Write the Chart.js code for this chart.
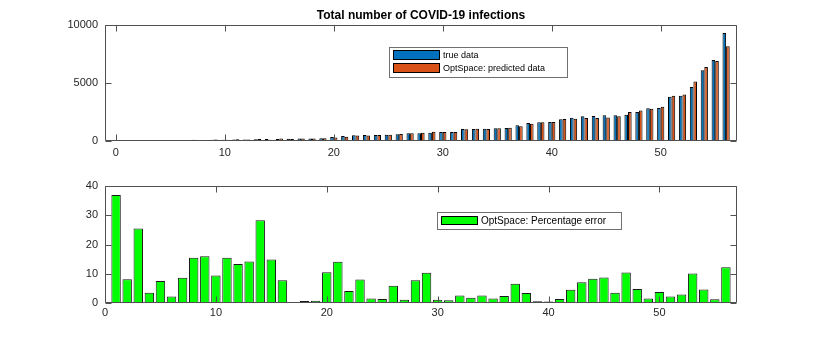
<!DOCTYPE html>
<html>
<head>
<meta charset="utf-8">
<script src="https://cdn.jsdelivr.net/npm/chart.js@4.4.0/dist/chart.umd.min.js"></script>
<style>
html, body { margin: 0; padding: 0; background: #fff; }
canvas { position: absolute; left: 0; }
#topChart { top: 0; }
#bottomChart { top: 170px; }
</style>
</head>
<body>
<canvas id="topChart" width="814" height="170"></canvas>
<canvas id="bottomChart" width="814" height="170"></canvas>
<script>
// day index of each bar
const days = [1, 2, 3, 4, 5, 6, 7, 8, 9, 10, 11, 12, 13, 14, 15, 16, 17, 18, 19, 20,
  21, 22, 23, 24, 25, 26, 27, 28, 29, 30, 31, 32, 33, 34, 35, 36, 37, 38, 39, 40,
  41, 42, 43, 44, 45, 46, 47, 48, 49, 50, 51, 52, 53, 54, 55, 56];

const trueData = [25, 35, 50, 60, 70, 80, 90, 95, 105, 115, 130, 140, 150, 165, 180, 195, 205, 215, 240, 340,
  430, 490, 520, 520, 545, 575, 660, 665, 720, 775, 780, 1030, 1035, 1060, 1090, 1120, 1350, 1550, 1625, 1635,
  1870, 2010, 2130, 2150, 2210, 2210, 2270, 2500, 2820, 2840, 3820, 3900, 4660, 6090, 6980, 9310];

const predictedData = [34, 38, 37, 62, 65, 82, 98, 80, 122, 104, 150, 121, 171, 118, 207, 180, 205, 217, 238, 304,
  369, 470, 478, 528, 537, 609, 667, 717, 794, 784, 773, 1003, 1054, 1032, 1106, 1147, 1261, 1497, 1615, 1643,
  1896, 1920, 1979, 1972, 2018, 2133, 2506, 2620, 2778, 2948, 3904, 4013, 5131, 6370, 6889, 8174];

const pctError = [36.9, 8.1, 25.5, 3.5, 7.5, 2.2, 8.6, 15.5, 16.0, 9.4, 15.5, 13.3, 14.2, 28.3, 14.9, 7.8, 0.05, 0.7, 0.8, 10.5,
  14.1, 4.1, 8.0, 1.5, 1.4, 5.9, 1.1, 7.8, 10.3, 1.1, 0.9, 2.6, 1.8, 2.6, 1.5, 2.4, 6.6, 3.4, 0.6, 0.5,
  1.4, 4.5, 7.1, 8.3, 8.7, 3.5, 10.4, 4.8, 1.5, 3.8, 2.2, 2.9, 10.1, 4.6, 1.3, 12.2];

const xTicks = [0, 10, 20, 30, 40, 50];
const topYTicks = [0, 5000, 10000];
const bottomYTicks = [0, 10, 20, 30, 40];

const FONT = "'Liberation Sans', Arial, Helvetica, sans-serif";
const TEXT = '#262626';
const AXIS = '#505050';

function points(ys) {
  return days.map((d, i) => ({ x: d, y: ys[i] }));
}

function setTicks(values) {
  return function (scale) { scale.ticks = values.map(v => ({ value: v })); };
}

// MATLAB-like box with inward ticks, plus an in-axes legend and title
const boxPlugin = {
  id: 'box',
  afterDatasetsDraw(chart, args, opts) {
    const { ctx, chartArea: a, scales } = chart;
    ctx.save();
    ctx.strokeStyle = AXIS;
    ctx.lineWidth = 1;
    const L = Math.round(a.left) + 0.5, R = Math.round(a.right) - 0.5;
    const T = Math.round(a.top) + 0.5, B = Math.round(a.bottom) - 0.5;
    const len = 6;
    ctx.beginPath();
    ctx.rect(L, T, R - L, B - T);
    scales.x.ticks.forEach(t => {
      const px = Math.round(scales.x.getPixelForValue(t.value)) + 0.5;
      ctx.moveTo(px, B); ctx.lineTo(px, B - len);
      ctx.moveTo(px, T); ctx.lineTo(px, T + len);
    });
    scales.y.ticks.forEach(t => {
      const py = Math.round(scales.y.getPixelForValue(t.value)) + 0.5;
      ctx.moveTo(L, py); ctx.lineTo(L + len, py);
      ctx.moveTo(R, py); ctx.lineTo(R - len, py);
    });
    ctx.stroke();

    const lg = opts.legend;
    if (lg) {
      ctx.fillStyle = '#fff';
      ctx.fillRect(lg.x, lg.y, lg.w, lg.h);
      ctx.strokeStyle = '#707070';
      ctx.strokeRect(lg.x + 0.5, lg.y + 0.5, lg.w, lg.h);
      ctx.font = lg.font + 'px ' + FONT;
      ctx.textBaseline = 'middle';
      ctx.textAlign = 'left';
      chart.data.datasets.forEach((ds, i) => {
        const cy = lg.y + lg.pad + i * lg.rowH;
        ctx.fillStyle = ds.backgroundColor;
        ctx.fillRect(lg.x + 4, cy, lg.patchW, lg.patchH);
        ctx.strokeStyle = '#000';
        ctx.strokeRect(lg.x + 4.5, cy + 0.5, lg.patchW - 1, lg.patchH - 1);
        ctx.fillStyle = '#000';
        ctx.fillText(ds.label, lg.x + 7 + lg.patchW, cy + lg.patchH / 2 + 0.5);
      });
    }

    if (opts.title) {
      ctx.fillStyle = '#000';
      ctx.font = 'bold 12px ' + FONT;
      ctx.textAlign = 'center';
      ctx.textBaseline = 'middle';
      ctx.fillText(opts.title, (a.left + a.right) / 2, 16);
    }
    ctx.restore();
  }
};

function axes(xmin, xmax, yTicks, xHeight, xPad) {
  const plain = v => String(v);
  return {
    x: {
      type: 'linear', min: xmin, max: xmax, offset: false,
      afterBuildTicks: setTicks(xTicks),
      afterFit(s) { s.height = xHeight; },
      grid: { display: false, drawTicks: false, offset: false },
      border: { display: false },
      ticks: { color: TEXT, padding: xPad, font: { family: FONT, size: 11 }, maxRotation: 0, callback: plain }
    },
    y: {
      min: yTicks[0], max: yTicks[yTicks.length - 1],
      afterBuildTicks: setTicks(yTicks),
      afterFit(s) { s.width = 105; },
      grid: { display: false, drawTicks: false },
      border: { display: false },
      ticks: { color: TEXT, padding: 7, font: { family: FONT, size: 11 }, callback: plain }
    }
  };
}

new Chart(document.getElementById('topChart'), {
  type: 'bar',
  data: {
    datasets: [
      { label: 'true data', data: points(trueData), backgroundColor: '#0072BD',
        borderColor: '#000', borderWidth: 1, categoryPercentage: 0.66, barPercentage: 1 },
      { label: 'OptSpace: predicted data', data: points(predictedData), backgroundColor: '#D95319',
        borderColor: '#000', borderWidth: 1, categoryPercentage: 0.66, barPercentage: 1 }
    ]
  },
  options: {
    responsive: false, animation: false, devicePixelRatio: 1,
    layout: { padding: { left: 0, top: 25, right: 77, bottom: 0 } },
    scales: axes(-1, 57, topYTicks, 29, 5),
    plugins: {
      legend: { display: false }, tooltip: { enabled: false },
      box: {
        title: 'Total number of COVID-19 infections',
        legend: { x: 389, y: 47, w: 178, h: 30, pad: 3, rowH: 13, patchW: 47, patchH: 10, font: 9 }
      }
    }
  },
  plugins: [boxPlugin]
});

new Chart(document.getElementById('bottomChart'), {
  type: 'bar',
  data: {
    datasets: [
      { label: 'OptSpace: Percentage error', data: points(pctError), backgroundColor: '#00FF00',
        borderColor: '#1a1a1a', borderWidth: 1, categoryPercentage: 0.85, barPercentage: 1 }
    ]
  },
  options: {
    responsive: false, animation: false, devicePixelRatio: 1,
    layout: { padding: { left: 0, top: 16, right: 77, bottom: 0 } },
    scales: axes(0, 57, bottomYTicks, 37, 3),
    plugins: {
      legend: { display: false }, tooltip: { enabled: false },
      box: {
        legend: { x: 437, y: 42, w: 184, h: 17, pad: 4, rowH: 13, patchW: 37, patchH: 9, font: 10 }
      }
    }
  },
  plugins: [boxPlugin]
});
</script>
</body>
</html>
